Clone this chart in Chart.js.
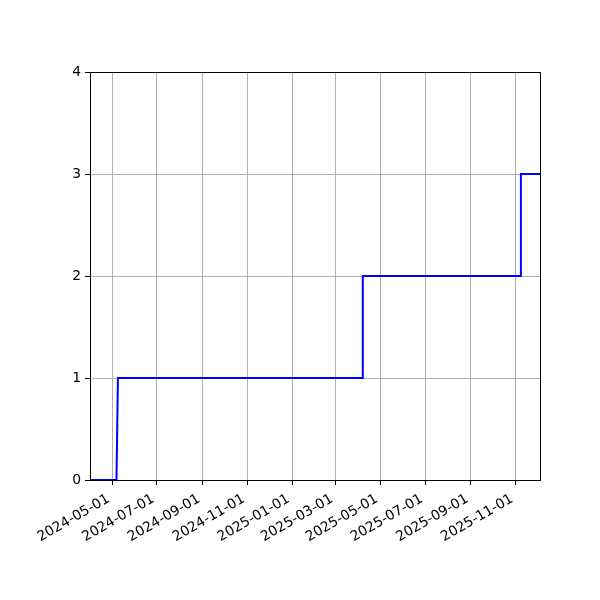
<!DOCTYPE html>
<html>
<head>
<meta charset="utf-8">
<script src="https://cdn.jsdelivr.net/npm/chart.js@4"></script>
<style>
  body { margin: 0; background: #fff; }
  #wrap { width: 600px; height: 600px; }
</style>
</head>
<body>
<div id="wrap"><canvas id="chart" width="600" height="600"></canvas></div>
<script>
// step data (cumulative count)
const dates = ['2024-04-01', '2024-05-07', '2024-05-09', '2025-04-06', '2025-04-07', '2025-11-07', '2025-11-08', '2025-12-04'];
const counts = [0, 0, 1, 1, 2, 2, 3, 3];
const xTickLabels = ['2024-05-01', '2024-07-01', '2024-09-01', '2024-11-01', '2025-01-01',
                     '2025-03-01', '2025-05-01', '2025-07-01', '2025-09-01', '2025-11-01'];
const yTicks = [0, 1, 2, 3, 4];

const points = dates.map((d, i) => ({ x: Date.parse(d), y: counts[i] }));
const font = { family: 'DejaVu Sans', size: 13.9 };

// matplotlib draws all four spines, and its rotated date labels sit
// with their bounding box's top-right corner at the tick
const frame = {
  id: 'frame',
  afterDatasetsDraw(chart) {
    const a = chart.chartArea, ctx = chart.ctx;
    ctx.save();
    ctx.strokeStyle = '#000';
    ctx.lineWidth = 1;
    ctx.strokeRect(Math.round(a.left) + 0.5, Math.round(a.top) + 0.5,
                   Math.round(a.right - a.left), Math.round(a.bottom - a.top));
    ctx.restore();
  },
  afterDraw(chart) {
    const sx = chart.scales.x, ctx = chart.ctx;
    ctx.save();
    ctx.font = '13.9px "DejaVu Sans"';
    ctx.fillStyle = '#000';
    ctx.textAlign = 'right';
    ctx.textBaseline = 'top';
    xTickLabels.forEach(s => {
      const px = sx.getPixelForValue(Date.parse(s));
      ctx.save();
      ctx.translate(px - 7, sx.top + 12);
      ctx.rotate(-Math.PI / 6);
      ctx.fillText(s, 0, 0);
      ctx.restore();
    });
    ctx.restore();
  }
};

new Chart(document.getElementById('chart'), {
  type: 'line',
  data: {
    datasets: [{
      data: points,
      borderColor: '#0000ff',
      borderWidth: 2,
      pointRadius: 0,
      tension: 0,
      fill: false
    }]
  },
  options: {
    responsive: false,
    animation: false,
    layout: { padding: { top: 72, right: 60, left: 0, bottom: 0 } },
    plugins: { legend: { display: false }, tooltip: { enabled: false } },
    scales: {
      x: {
        type: 'linear',
        min: Date.parse(dates[0]),
        max: Date.parse(dates[dates.length - 1]),
        afterBuildTicks: (scale) => {
          scale.ticks = xTickLabels.map(s => ({ value: Date.parse(s) }));
        },
        afterFit: (scale) => { scale.height = 120; },
        grid: { color: '#b0b0b0', lineWidth: 1, tickColor: '#000', tickLength: 5 },
        border: { color: '#000', width: 1 },
        ticks: { display: false }
      },
      y: {
        min: yTicks[0],
        max: yTicks[yTicks.length - 1],
        afterBuildTicks: (scale) => {
          scale.ticks = yTicks.map(v => ({ value: v }));
        },
        afterFit: (scale) => { scale.width = 90; },
        grid: { color: '#b0b0b0', lineWidth: 1, tickColor: '#000', tickLength: 5 },
        border: { color: '#000', width: 1 },
        ticks: { font: font, color: '#000', padding: 4 }
      }
    }
  },
  plugins: [frame]
});
</script>
</body>
</html>
